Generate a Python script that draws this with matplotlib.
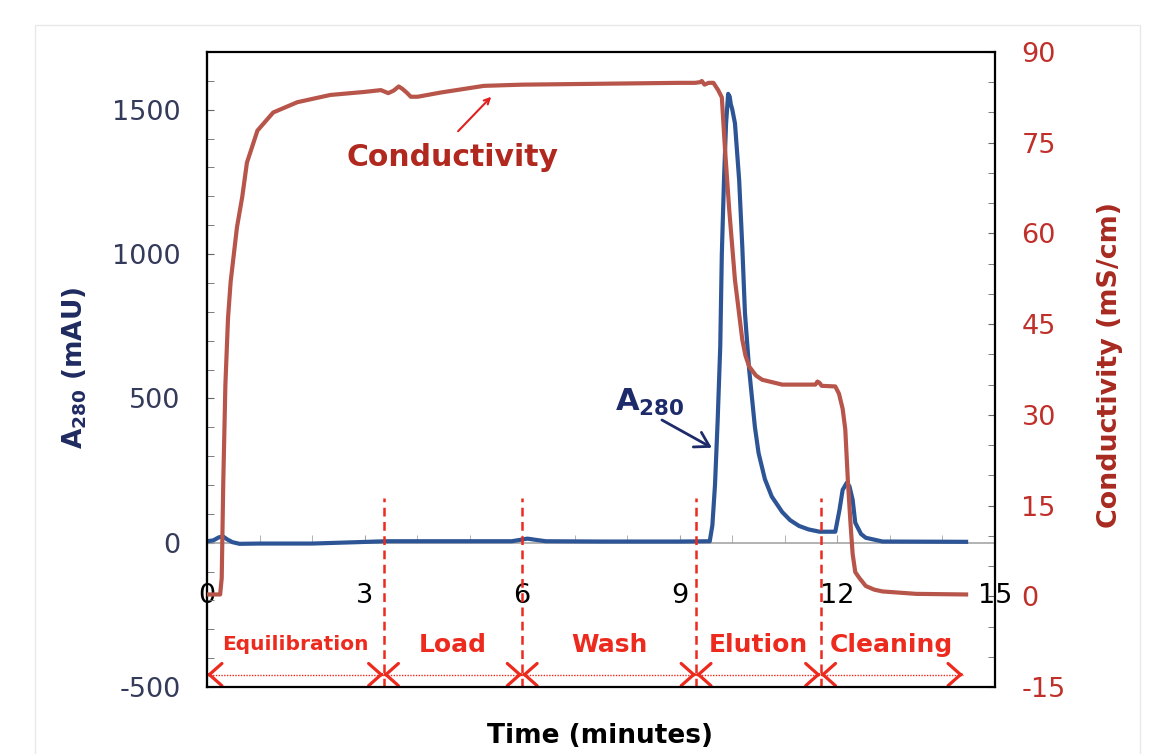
import numpy as np
import matplotlib
matplotlib.use('Agg')
import matplotlib.pyplot as plt
from matplotlib.ticker import MultipleLocator
from matplotlib.patches import Rectangle

plt.rcParams['mathtext.fontset'] = 'dejavusans'
plt.rcParams['axes.unicode_minus'] = False

# A280 trace (mAU)
a280_time = [0.0, 0.12, 0.22, 0.30, 0.38, 0.48, 0.62, 1.0, 2.0, 2.9, 3.4, 4.5, 5.8,
             6.1, 6.25, 6.45, 7.5, 9.0, 9.57, 9.62, 9.67, 9.72, 9.77, 9.80, 9.84, 9.88,
             9.92, 9.95, 9.97, 10.00, 10.05, 10.13, 10.19, 10.24, 10.32, 10.43, 10.50,
             10.62, 10.75, 10.95, 11.1, 11.27, 11.45, 11.66, 11.96, 12.04, 12.10, 12.18,
             12.23, 12.29, 12.34, 12.45, 12.54, 12.86, 14.45]
a280_mau = [5, 8, 18, 22, 12, 2, -4, -3, -3, 2, 5, 5, 5,
            14, 10, 5, 4, 4, 5, 60, 200, 420, 680, 1000, 1250, 1450,
            1555, 1545, 1520, 1500, 1453, 1256, 1024, 796, 600, 400, 310,
            220, 160, 106, 78, 58, 46, 38, 38, 114, 183, 208,
            195, 149, 69, 30, 17, 4, 3]

# conductivity trace (mS/cm)
cond_time = [0.0, 0.25, 0.28, 0.31, 0.35, 0.40, 0.45, 0.57, 0.67, 0.76, 0.96, 1.26,
             1.72, 2.35, 3.0, 3.31, 3.45, 3.55, 3.65, 3.72, 3.80, 3.88, 4.01, 4.45,
             5.27, 6.0, 7.0, 8.0, 9.0, 9.29, 9.38, 9.42, 9.47, 9.55, 9.64, 9.73, 9.80,
             9.86, 9.94, 10.05, 10.19, 10.25, 10.32, 10.45, 10.57, 10.95, 11.3, 11.58,
             11.62, 11.66, 11.70, 11.96, 12.03, 12.10, 12.15, 12.20, 12.25, 12.29, 12.34,
             12.42, 12.54, 12.7, 12.86, 13.5, 14.45]
cond_ms = [0.3, 0.3, 3, 19, 35, 46, 52, 61, 66, 71.7, 77, 80,
           81.7, 82.9, 83.4, 83.7, 83.2, 83.6, 84.3, 83.9, 83.3, 82.6, 82.6, 83.3,
           84.4, 84.6, 84.7, 84.8, 84.9, 84.9, 85.0, 85.2, 84.6, 84.9, 84.9, 83.7, 82.5,
           74, 64, 52.3, 42.4, 39.8, 38, 36.5, 35.8, 35, 35, 35,
           35.5, 35.3, 34.8, 34.7, 33.5, 31, 27.6, 19, 12, 7, 4,
           3, 1.7, 1.1, 0.8, 0.4, 0.3]

# run phases
phase_names = ['Equilibration', 'Load', 'Wash', 'Elution', 'Cleaning']
phase_edges = [0, 3.36, 6.0, 9.31, 11.68, 14.39]

fig = plt.figure(figsize=(11.71, 7.54), dpi=100)
ax = fig.add_axes([207/1171, 1-687/754, 788/1171, 635/754])
ax2 = ax.twinx()

blue = '#2D5596'
red = '#B8554A'
phase_red = '#EC2A1E'

ax.plot(a280_time, a280_mau, color=blue, lw=3, solid_joinstyle='round', zorder=3)
ax2.plot(cond_time, cond_ms, color=red, lw=3, solid_joinstyle='round', zorder=3)

ax.set_xlim(0, 15)
ax.set_ylim(-500, 1700)
ax2.set_ylim(-15, 90)

# spines
ax.spines['bottom'].set_position(('data', 0))
ax.spines['bottom'].set_color('#A6A6A6')
ax.spines['bottom'].set_linewidth(1.2)
ax.spines['top'].set_visible(False)
ax.spines['right'].set_visible(False)
ax.spines['left'].set_linewidth(1.5)
for s in ['top', 'bottom', 'left', 'right']:
    ax2.spines[s].set_color('black')
    ax2.spines[s].set_linewidth(1.6)

# ticks
ax.set_xticks([0, 3, 6, 9, 12, 15])
ax.xaxis.set_minor_locator(MultipleLocator(1))
ax.tick_params(axis='x', which='both', direction='in', length=6, color='#A6A6A6',
               labelsize=19.5, pad=29, labelcolor='black')
ax.set_yticks(np.arange(-500, 1501, 500))
ax.yaxis.set_minor_locator(MultipleLocator(100))
ax.tick_params(axis='y', which='both', direction='in', length=5, color='#666666',
               labelsize=19.5, pad=19, labelcolor='#343A5A')
ax2.set_yticks(np.arange(-15, 91, 15))
ax2.yaxis.set_minor_locator(MultipleLocator(5))
ax2.tick_params(axis='y', which='both', direction='in', length=5, color='#666666',
                labelsize=19.5, pad=19, labelcolor='#C0302A')

# phase markers
arrow_y = -457
for e in phase_edges[1:-1]:
    ax.vlines(e, -500, 155, colors=phase_red, linestyles=(0, (3.5, 2.2)), lw=1.8, zorder=5)
ax.hlines(arrow_y, phase_edges[0], phase_edges[-1], colors=phase_red,
          linestyles=(0, (1, 1)), lw=1, zorder=5)
head = dict(arrowstyle='->,head_length=0.45,head_width=0.4', color=phase_red, lw=2.3,
            mutation_scale=20, shrinkA=0, shrinkB=0)
for i in range(len(phase_names)):
    a = phase_edges[i]
    b = phase_edges[i+1]
    ax.annotate('', xy=(a, arrow_y), xytext=(a+0.05, arrow_y), arrowprops=head)
    ax.annotate('', xy=(b, arrow_y), xytext=(b-0.05, arrow_y), arrowprops=head)
    fs = 14.5 if phase_names[i] == 'Equilibration' else 18
    ax.text((a+b)/2, -353, phase_names[i], ha='center', va='center', fontsize=fs,
            fontweight='bold', color=phase_red)

# curve labels
ax2.text(4.68, 72.5, 'Conductivity', ha='center', va='center', fontsize=21.5,
         fontweight='bold', color='#B0281E')
ax2.annotate('', xy=(5.41, 82.6), xytext=(4.78, 76.9),
             arrowprops=dict(arrowstyle='->', color='#E02020', lw=1.5, shrinkA=0, shrinkB=0))
ax.text(7.76, 457, r'$\mathbf{A}_{\mathbf{280}}$', ha='left', va='baseline', fontsize=22,
        color='#1E2B6B')
ax.annotate('', xy=(9.61, 329), xytext=(8.66, 425),
            arrowprops=dict(arrowstyle='->,head_length=0.5,head_width=0.3', color='#1E2B6B',
                            lw=2, mutation_scale=20, shrinkA=0, shrinkB=0))

# axis titles
fig.text(75/1171, 1-368/754, r'$\mathbf{A}_{\mathbf{280}}$ (mAU)', rotation=90, ha='center',
         va='center', fontsize=19, fontweight='bold', color='#1F2A60')
fig.text(1110/1171, 1-365/754, 'Conductivity (mS/cm)', rotation=90, ha='center',
         va='center', fontsize=19.4, fontweight='bold', color='#A82A20')
fig.text(600/1171, 1-736/754, 'Time (minutes)', ha='center', va='center', fontsize=19,
         fontweight='bold', color='black')

# faint slide frame
fig.add_artist(Rectangle((35/1171, -0.1), 1105/1171, 1.1-25/754, transform=fig.transFigure,
                         fill=False, edgecolor='#E8E8E8', lw=1))

fig.savefig('out.png', dpi=100)
